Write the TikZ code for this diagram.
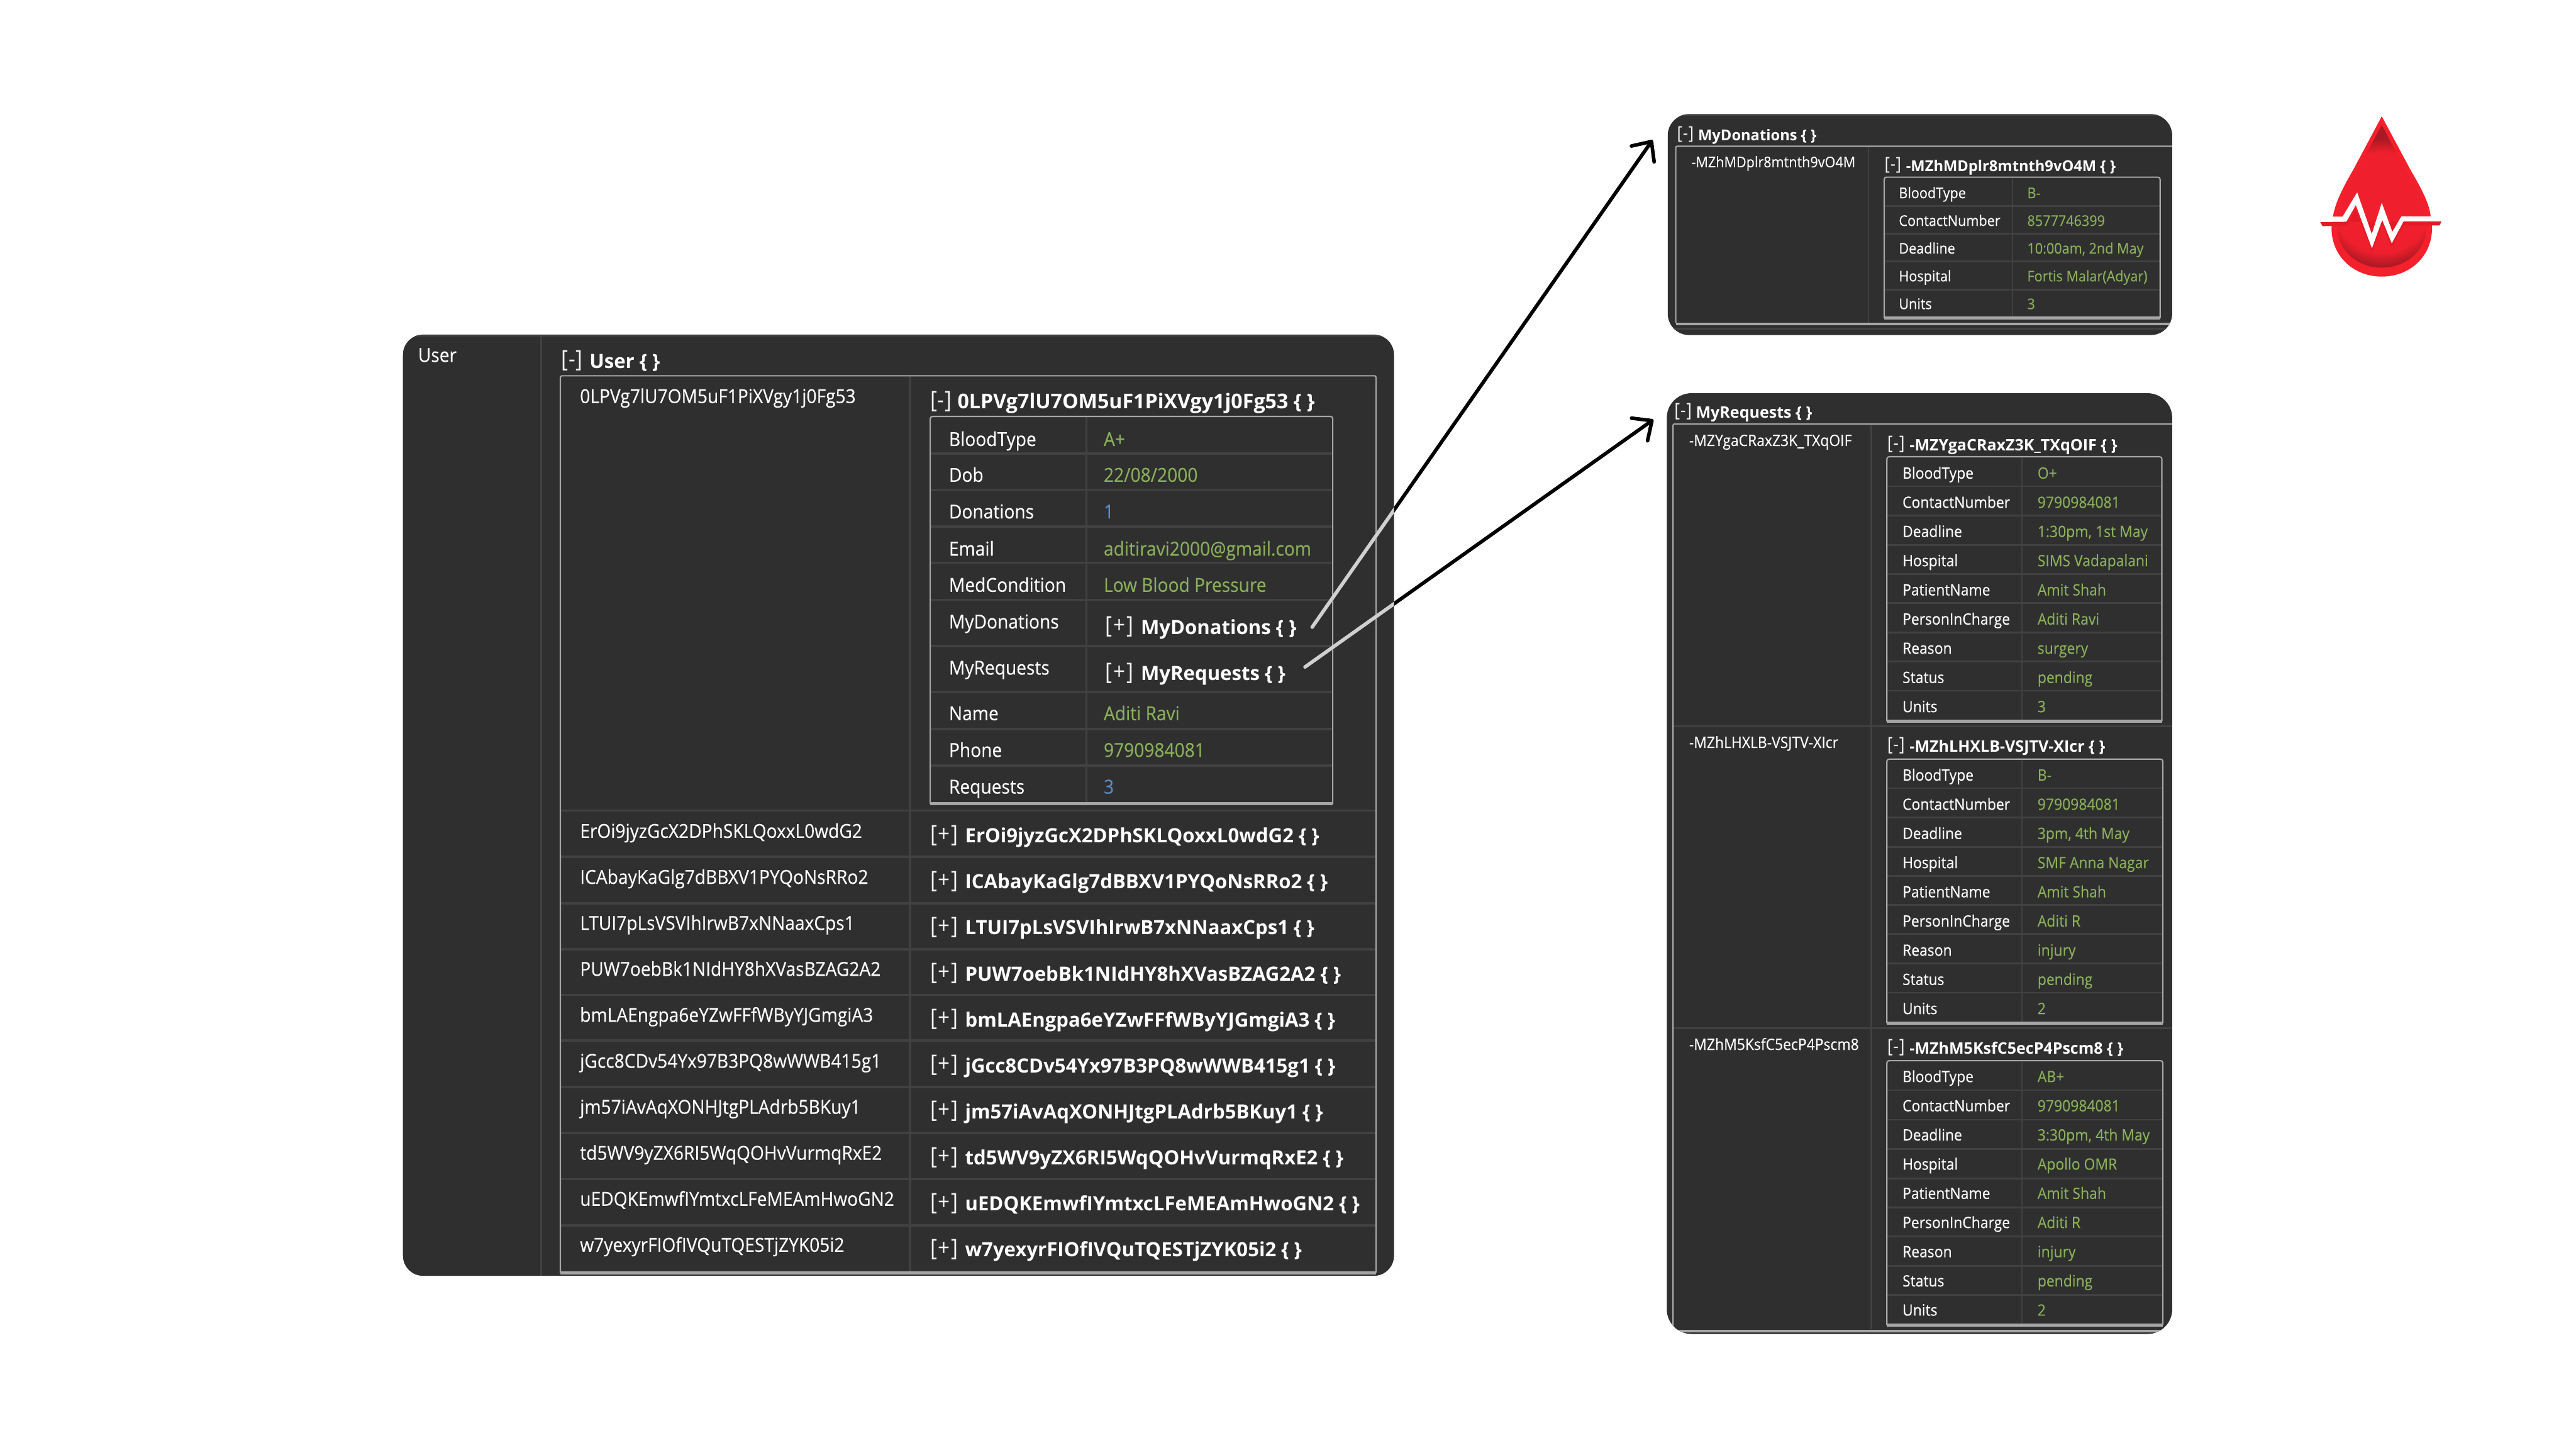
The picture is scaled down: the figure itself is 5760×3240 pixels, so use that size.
\documentclass[tikz,border=0pt]{standalone}
\usepackage{fontspec}
\usetikzlibrary{arrows.meta}
\setmainfont{Open Sans}
\newfontfamily\regf[FakeStretch=0.92,FakeBold=0.25]{Open Sans}
\newfontfamily\brkf[FakeStretch=0.9]{Open Sans}
\newfontfamily\bldf[FakeStretch=0.995]{Open Sans Bold}
\definecolor{panel}{HTML}{2F2F2F}
\definecolor{grid}{HTML}{414141}
\definecolor{edge}{HTML}{A6A6A6}
\definecolor{valgreen}{HTML}{8AB05A}
\definecolor{valblue}{HTML}{5C8CC4}
\definecolor{brk}{HTML}{F4F4F4}
\definecolor{dropa}{HTML}{F4202B}
\definecolor{dropb}{HTML}{E31B26}
\definecolor{dropc}{HTML}{EF1F2D}
\definecolor{dropd}{HTML}{A81923}
\definecolor{linkin}{HTML}{D0D0D0}
\pgfdeclareradialshading{dropshade}{\pgfpointorigin}{color(0bp)=(dropc); color(14bp)=(dropc); color(18bp)=(dropd); color(50bp)=(dropd)}
\newcommand\fL{\regf\fontsize{43}{50}\selectfont}
\newcommand\fLb{\bldf\fontsize{44}{50}\selectfont}
\newcommand\fLt{\bldf\fontsize{45.5}{50}\selectfont}
\newcommand\fLk{\brkf\fontsize{52}{50}\selectfont}
\newcommand\fM{\regf\fontsize{35}{40}\selectfont}
\newcommand\fMb{\bldf\fontsize{35.4}{40}\selectfont}
\newcommand\fMk{\brkf\fontsize{42}{40}\selectfont}
\newcommand\fS{\regf\fontsize{33}{40}\selectfont}
\newcommand\fSb{\bldf\fontsize{33.5}{40}\selectfont}
\newcommand\fSk{\brkf\fontsize{40}{40}\selectfont}
\newcommand\minusB{[\kern1pt-\kern1pt]}
\newcommand\plusB{[\kern2.5pt+\kern2.5pt]}
\tikzset{
  x=1pt,y=-1pt,
  tx/.style={anchor=base west,inner sep=0pt,outer sep=0pt,text=white},
  val/.style={tx,text=valgreen},
  num/.style={tx,text=valblue},
  brkt/.style={tx,text=brk,yshift=2pt},
  szL/.style={font=\fL,yshift=-3pt},
  szM/.style={font=\fM,yshift=-2pt},
  szS/.style={font=\fS,yshift=-1pt},
  gridln/.style={draw=grid,line width=5pt},
  gridsm/.style={draw=grid,line width=4pt},
  edgeln/.style={draw=edge,line width=3pt},
  edgebot/.style={draw=edge,line width=7pt},
  link/.style={line width=8pt,line cap=round,line join=round},
  linkhead/.style={-{Straight Barb[length=34pt,width=62pt,round]}},
}
% \innertable{left}{right}{vertical}{top}{bottom}{row rules}{grid style}
\newcommand\innertable[7]{
  \foreach \yy in {#6} {\draw[#7] (#1,\yy) -- (#2,\yy);}
  \draw[#7] (#3,#4) -- (#3,#5);
  \draw[edgeln,rounded corners=5pt] (#1,#5) -- (#1,#4) -- (#2,#4) -- (#2,#5);
  \draw[edgebot,rounded corners=3pt] (#1,#5) -- (#2,#5);
}
\newcommand\rowsM[6]{
  \foreach \kk/\vv [count=\ii from 0] in {#6} {
    \pgfmathsetmacro\yy{#2+65.25*\ii}
    \node[tx,szM] (#1k\ii) at (#3,\yy) {\kk};
    \node[val,szM] (#1v\ii) at (#4,\yy) {\vv};
  }
}
\begin{document}
\begin{tikzpicture}
\useasboundingbox (0,0) rectangle (5760,3240);
\fill[white] (0,0) rectangle (5760,3240);

%% ---------- main panel
\coordinate (mainNW) at (901,748);
\coordinate (mainSE) at (3117,2852);
\fill[panel,rounded corners=45pt] (mainNW) rectangle (mainSE);
\begin{scope}
  \clip[rounded corners=45pt] (mainNW) rectangle (mainSE);
  \draw[gridln,line width=4pt] (901,751) -- (3117,751);
  \draw[gridln] (1210,748) -- (1210,2852);
  \foreach \yy in {1812,1915,2019,2122,2224,2326,2430,2533,2636,2739} {\draw[gridln] (1255,\yy) -- (3075,\yy);}
  \draw[gridln] (2035,840) -- (2035,2845);
  \draw[edgeln,rounded corners=4pt] (1253,2845) -- (1253,840) -- (3077,840) -- (3077,2845);
  \draw[edgebot] (1253,2846) -- (3077,2846);
\end{scope}
\innertable{2080}{2980}{2429}{931}{1797}{1014,1095,1177,1258,1341,1444,1547,1630,1711}{gridln}

\node[tx,szL] (uLabel) at (935,806) {User};
\node[brkt,font=\fLk] (uB) at (1255,823) {\minusB};
\node[tx,font=\fLb] (uT) at (1318,823) {User \{ \}};
\node[tx,szL] (k0) at (1297,898) {0LPVg7lU7OM5uF1PiXVgy1j0Fg53};
\node[brkt,font=\fLk] (b0) at (2080,914) {\minusB};
\node[tx,font=\fLt] (t0) at (2141,914) {0LPVg7lU7OM5uF1PiXVgy1j0Fg53 \{ \}};

\node[tx,szL] (fa) at (2122,994) {BloodType};   \node[val,szL] (va) at (2468,994) {A+};
\node[tx,szL] (fb) at (2122,1074) {Dob};        \node[val,szL] (vb) at (2468,1074) {22/08/2000};
\node[tx,szL] (fc) at (2122,1156) {Donations};  \node[num,szL] (vc) at (2468,1156) {1};
\node[tx,szL] (fd) at (2122,1239) {Email};      \node[val,szL] (vd) at (2468,1239) {aditiravi2000@gmail.com};
\node[tx,szL] (fe) at (2122,1320) {MedCondition}; \node[val,szL] (ve) at (2468,1320) {Low Blood Pressure};
\node[tx,szL] (ff) at (2122,1402) {MyDonations};
\node[brkt,font=\fLk] (vfb) at (2472,1418) {\plusB};
\node[tx,font=\fLb] (vf) at (2551,1418) {MyDonations \{ \}};
\node[tx,szL] (fg) at (2122,1505) {MyRequests};
\node[brkt,font=\fLk] (vgb) at (2472,1521) {\plusB};
\node[tx,font=\fLb] (vg) at (2551,1521) {MyRequests \{ \}};
\node[tx,szL] (fh) at (2122,1607) {Name};       \node[val,szL] (vh) at (2468,1607) {Aditi Ravi};
\node[tx,szL] (fi) at (2122,1689) {Phone};      \node[val,szL] (vi) at (2468,1689) {9790984081};
\node[tx,szL] (fj) at (2122,1771) {Requests};   \node[num,szL] (vj) at (2468,1771) {3};

\foreach \kk [count=\ii from 0] in {ErOi9jyzGcX2DPhSKLQoxxL0wdG2,ICAbayKaGlg7dBBXV1PYQoNsRRo2,LTUI7pLsVSVIhIrwB7xNNaaxCps1,PUW7oebBk1NIdHY8hXVasBZAG2A2,bmLAEngpa6eYZwFFfWByYJGmgiA3,jGcc8CDv54Yx97B3PQ8wWWB415g1,jm57iAvAqXONHJtgPLAdrb5BKuy1,td5WV9yZX6RI5WqQOHvVurmqRxE2,uEDQKEmwfIYmtxcLFeMEAmHwoGN2,w7yexyrFIOfIVQuTQESTjZYK05i2} {
  \pgfmathsetmacro\yy{1870+102.8*\ii}
  \pgfmathsetmacro\yv{1884+102.8*\ii}
  \node[tx,szL] (lk\ii) at (1297,\yy) {\kk};
  \node[brkt,font=\fLk] (lb\ii) at (2080,\yv) {\plusB};
  \node[tx,font=\fLb] (lv\ii) at (2158,\yv) {\kk\ \{ \}};
}

%% ---------- MyDonations panel
\coordinate (donNW) at (3729,255);
\coordinate (donSE) at (4857,749);
\fill[panel,rounded corners=48pt] (donNW) rectangle (donSE);
\begin{scope}
  \clip[rounded corners=48pt] (donNW) rectangle (donSE);
  \draw[gridsm,line width=3pt] (3729,257) -- (4857,257);
  \draw[gridsm] (3729,735) -- (4857,735);
  \draw[gridsm] (4178,327) -- (4178,722);
  \draw[edgeln,rounded corners=3pt] (3747,722) -- (3747,327) -- (4857,327);
  \draw[edgebot,line width=6pt] (3747,724) -- (4857,724);
\end{scope}
\innertable{4213}{4830}{4500}{396}{711}{460,522,584,647}{gridsm}
\node[brkt,font=\fSk] (dB) at (3750,314) {\minusB};
\node[tx,font=\fSb] (dT) at (3797,314) {MyDonations \{ \}};
\node[tx,szS] (dK) at (3782,373) {-MZhMDplr8mtnth9vO4M};
\node[brkt,font=\fSk] (dB1) at (4214,383) {\minusB};
\node[tx,font=\fSb] (dT1) at (4262,383) {-MZhMDplr8mtnth9vO4M \{ \}};
\node[tx,szS] (da) at (4246,442) {BloodType};     \node[val,szS] (dav) at (4533,442) {B-};
\node[tx,szS] (db) at (4246,504) {ContactNumber}; \node[val,szS] (dbv) at (4533,504) {8577746399};
\node[tx,szS] (dc) at (4246,566) {Deadline};      \node[val,szS] (dcv) at (4533,566) {10:00am, 2nd May};
\node[tx,szS] (dd) at (4246,628) {Hospital};      \node[val,szS] (ddv) at (4533,628) {Fortis Malar(Adyar)};
\node[tx,szS] (de) at (4246,690) {Units};         \node[val,szS] (dev) at (4533,690) {3};

%% ---------- MyRequests panel
\coordinate (reqNW) at (3727,879);
\coordinate (reqSE) at (4857,2982);
\fill[panel,rounded corners=55pt] (reqNW) rectangle (reqSE);
\begin{scope}
  \clip[rounded corners=55pt] (reqNW) rectangle (reqSE);
  \draw[gridsm] (3741,1624) -- (4857,1624);
  \draw[gridsm] (3741,2299) -- (4857,2299);
  \draw[gridsm] (4184,948) -- (4184,2972);
  \draw[edgeln,rounded corners=3pt] (3741,2975) -- (3741,948) -- (4857,948);
  \draw[edgebot,line width=6pt] (3741,2976) -- (4857,2976);
\end{scope}
\innertable{4219}{4834}{4521}{1021}{1612}{1087,1152,1218,1283,1348,1414,1479,1544}{gridsm}
\innertable{4219}{4836}{4521}{1697}{2287}{1762,1827,1893,1958,2023,2088,2154,2219}{gridsm}
\innertable{4219}{4836}{4521}{2371}{2962}{2437,2503,2569,2634,2699,2764,2830,2895}{gridsm}

\node[brkt,font=\fMk] (rB) at (3744,934) {\minusB};
\node[tx,font=\fMb] (rT) at (3792,934) {MyRequests \{ \}};

\node[tx,szM] (r1K) at (3777,995) {-MZYgaCRaxZ3K\_TXqOIF};
\node[brkt,font=\fMk] (r1B) at (4220,1007) {\minusB};
\node[tx,font=\fMb] (r1T) at (4270,1007) {-MZYgaCRaxZ3K\_TXqOIF \{ \}};
\rowsM{ra}{1068}{4254}{4556}{\fM}{BloodType/O+,ContactNumber/9790984081,Deadline/{1:30pm, 1st May},Hospital/SIMS Vadapalani,PatientName/Amit Shah,PersonInCharge/Aditi Ravi,Reason/surgery,Status/pending,Units/3}

\node[tx,szM] (r2K) at (3777,1670) {-MZhLHXLB-VSJTV-XIcr};
\node[brkt,font=\fMk] (r2B) at (4220,1681) {\minusB};
\node[tx,font=\fMb] (r2T) at (4270,1681) {-MZhLHXLB-VSJTV-XIcr \{ \}};
\rowsM{rb}{1743}{4254}{4556}{\fM}{BloodType/B-,ContactNumber/9790984081,Deadline/{3pm, 4th May},Hospital/SMF Anna Nagar,PatientName/Amit Shah,PersonInCharge/Aditi R,Reason/injury,Status/pending,Units/2}

\node[tx,szM] (r3K) at (3777,2345) {-MZhM5KsfC5ecP4Pscm8};
\node[brkt,font=\fMk] (r3B) at (4220,2356) {\minusB};
\node[tx,font=\fMb] (r3T) at (4270,2356) {-MZhM5KsfC5ecP4Pscm8 \{ \}};
\rowsM{rc}{2417}{4254}{4556}{\fM}{BloodType/AB+,ContactNumber/9790984081,Deadline/{3:30pm, 4th May},Hospital/Apollo OMR,PatientName/Amit Shah,PersonInCharge/Aditi R,Reason/injury,Status/pending,Units/2}

%% ---------- connectors
\coordinate (donFrom) at (2934,1402);
\coordinate (donTo) at (3695,313);
\coordinate (reqFrom) at (2918,1491);
\coordinate (reqTo) at (3697,938);
\draw[link,linkhead,black] (donFrom) -- (donTo);
\draw[link,linkhead,black] (reqFrom) -- (reqTo);
\begin{scope}
  \clip[rounded corners=45pt] (mainNW) rectangle (mainSE);
  \draw[link,linkin] (donFrom) -- (donTo);
  \draw[link,linkin] (reqFrom) -- (reqTo);
\end{scope}

%% ---------- logo
\begin{scope}[shift={(5150,220)},x=0.3333pt,y=-0.3333pt]
  \fill[dropa] (527,120) -- (720,480) .. controls (790,600) and (845,700) .. (855,790)
    .. controls (860,820) and (864,850) .. (864,870)
    .. controls (864,1060) and (715,1195) .. (527,1195)
    .. controls (340,1195) and (190,1060) .. (190,870)
    .. controls (190,850) and (192,820) .. (200,790)
    .. controls (215,700) and (265,600) .. (335,480) -- cycle;
  \begin{scope}
    \clip (527,178) -- (700,510) .. controls (765,620) and (815,710) .. (820,780)
      .. controls (824,810) and (826,840) .. (826,860)
      .. controls (826,1020) and (690,1135) .. (527,1135)
      .. controls (365,1135) and (228,1020) .. (228,860)
      .. controls (228,840) and (230,810) .. (235,780)
      .. controls (245,710) and (290,620) .. (350,510) -- cycle;
    \shade[shading=dropshade] (527,700) circle [radius=600];
  \end{scope}
  \fill[dropb] (114,829) -- (130,857) -- (290,853) -- (353,745) -- (461,1030) -- (530,845) -- (594,1000) -- (673,852) -- (914,852) -- (928,825) -- cycle;
  \fill[white] (150,793) -- (264,793) -- (362,630) -- (460,910) -- (527,700) -- (598,895) -- (658,792) -- (900,792) -- (928,825) -- (673,825) -- (594,972) -- (530,815) -- (461,1005) -- (353,715) -- (289,827) -- (114,829) -- cycle;
\end{scope}
\end{tikzpicture}
\end{document}
